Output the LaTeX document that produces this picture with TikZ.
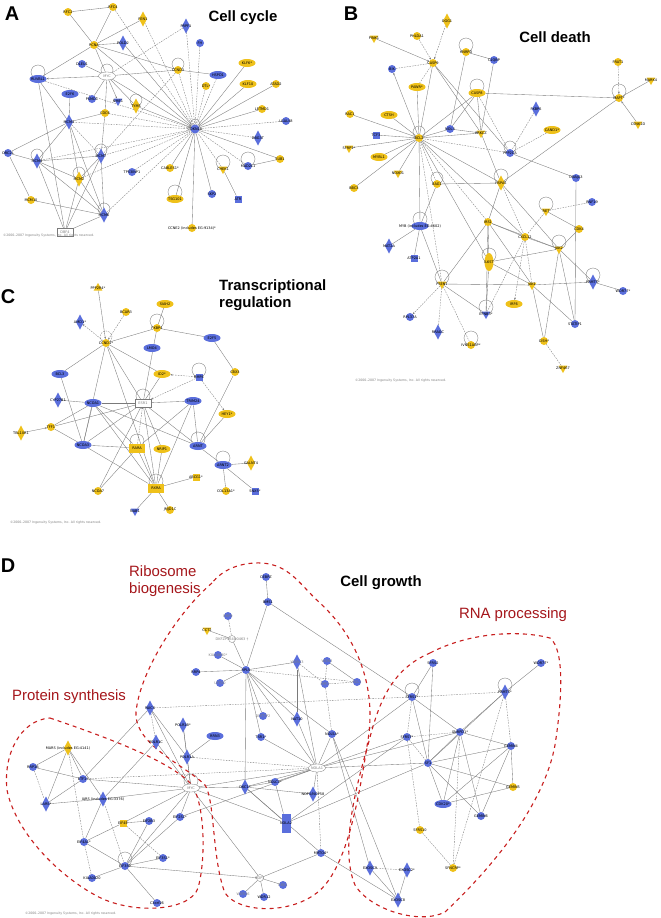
\documentclass[tikz,border=0pt]{standalone}
\usepackage{fontspec}
\setmainfont{Liberation Sans}
\newfontfamily\dv{DejaVu Sans}
\usetikzlibrary{shapes.geometric,arrows.meta}
\definecolor{gold}{HTML}{EFC11A}
\definecolor{blu}{HTML}{5A6EDC}
\definecolor{lgray}{HTML}{7A7A7A}
\definecolor{rdash}{HTML}{C81E1E}
\definecolor{rtext}{HTML}{A5161B}
\newcommand\lfnt{\dv\fontsize{3.5}{4}\selectfont}
\pgfdeclarelayer{bg}
\pgfsetlayers{bg,main}
\tikzset{
 base/.style={inner sep=0pt, outer sep=0pt, draw=none},
 gC/.style={base, circle, fill=gold, minimum size=8bp},
 bC/.style={base, circle, fill=blu, minimum size=8bp},
 gE/.style={base, ellipse, fill=gold, minimum width=17bp, minimum height=8bp},
 bE/.style={base, ellipse, fill=blu, minimum width=17bp, minimum height=8bp},
 gD/.style={base, diamond, fill=gold, minimum width=8bp, minimum height=15bp},
 bD/.style={base, diamond, fill=blu, minimum width=8bp, minimum height=15bp},
 gT/.style={base, regular polygon, regular polygon sides=3, shape border rotate=180, fill=gold, minimum size=10bp},
 gTu/.style={base, regular polygon, regular polygon sides=3, fill=gold, minimum size=10bp},
 bT/.style={base, regular polygon, regular polygon sides=3, shape border rotate=180, fill=blu, minimum size=10bp},
 bS/.style={base, rectangle, fill=blu, minimum size=7bp},
 gS/.style={base, rectangle, fill=gold, minimum size=7bp},
 gR/.style={base, rectangle, fill=gold, minimum width=16bp, minimum height=9bp},
 bR/.style={base, rectangle, fill=blu, minimum width=9bp, minimum height=19bp},
 wE/.style={base, ellipse, draw=lgray, line width=0.3bp, fill=white, minimum width=17bp, minimum height=8bp},
 wC/.style={base, circle, draw=lgray, line width=0.3bp, fill=white, minimum size=7bp},
 wR/.style={base, rectangle, draw=lgray, line width=0.3bp, fill=white, minimum width=16bp, minimum height=8bp},
 lbl/.style={font=\lfnt, inner sep=0pt, text=black},
 lblg/.style={font=\lfnt, inner sep=0pt, text=gray},
 e/.style={draw=lgray, line width=0.35bp},
 ed/.style={e, dash pattern=on 1.6bp off 1.1bp},
 >={Stealth[length=2.2bp,width=1.8bp]},
 reg/.style={draw=rdash, line width=1.1bp, dash pattern=on 4bp off 4bp},
 ttl/.style={font=\bfseries\fontsize{15}{17}\selectfont, inner sep=0pt},
 plet/.style={font=\bfseries\fontsize{20}{22}\selectfont, inner sep=0pt},
 rtx/.style={font=\fontsize{15}{18}\selectfont, text=rtext, inner sep=0pt, align=left},
 cpy/.style={font=\dv\fontsize{3.2}{4}\selectfont, text=gray, inner sep=0pt, anchor=west},
}
\newcommand\ND[4]{\node[#1, label={[lbl]center:{#4}}] (#2) at (#3) {};}
\newcommand\NDG[4]{\node[#1, label={[lblg]center:{#4}}] (#2) at (#3) {};}
\newcommand\LPP[2]{\draw[e] ([yshift=#2bp]#1.center) circle[radius=#2bp];}
\begin{document}
\begin{tikzpicture}[x=1bp,y=-1bp]
\begin{pgfonlayer}{bg}
\fill[white] (0,0) rectangle (661,918);
\end{pgfonlayer}
\useasboundingbox (0,0) rectangle (661,918);
% ================= Panel A =================
\node[plet] at (12,14) {A};
\node[ttl] at (243,18) {Cell cycle};
\ND{gC}{aRFC2}{68,12}{RFC2}
\ND{gC}{aRFC4}{113,7}{RFC4}
\ND{gD}{aFEN1}{143,19}{FEN1}
\ND{bD}{aPRPF1}{186,26}{PRPF1}
\ND{gC}{aPCNA}{94,45}{PCNA}
\ND{bD}{aPOLD2}{123,43}{POLD2}
\ND{bC}{aFH}{200,43}{FH}
\ND{bC}{aDLEU1}{82,64}{DLEU1}
\NDG{wE}{aMYC}{107,76}{MYC}
\ND{gC}{aCCND3}{178,70}{CCND3}
\ND{bE}{aHSPD1}{218,75}{HSPD1}
\ND{gC}{aDTL}{206,86}{DTL*}
\ND{gE}{aKLF6}{247,63}{KLF6*}
\ND{gE}{aKLF10}{248,84}{KLF10}
\ND{gC}{aATAD2}{276,84}{ATAD2}
\ND{gC}{aLETMD1}{262,109}{LETMD1}
\ND{bC}{aLGALS8}{286,121}{LGALS8}
\ND{bD}{aDBG}{258,138}{DBG3T}
\ND{gC}{aSUB1}{280,159}{SUB1}
\ND{bC}{aMAD2L1}{248,166}{MAD2L1}
\ND{gT}{aCHEK1}{223,169}{CHEK1}
\ND{bS}{aATR}{238,199}{ATR}
\node[base, circle, fill=blu, minimum size=9bp, label={[lbl]center:CDKN1A}] (aCDKN1A) at (195,129) {};
\ND{bE}{aRUVBL1}{38,79}{RUVBL1}
\ND{bE}{aE2F6}{70,94}{E2F6}
\ND{bC}{aPSMD1}{92,99}{PSMD1}
\ND{bT}{aNME1}{118,101}{NME1}
\ND{gD}{aTYMS}{136,106}{TYMS}
\ND{gC}{aCDC6}{105,113}{CDC6}
\ND{bD}{aMCM3}{69,122}{MCM3}
\ND{bC}{aORC2L}{8,153}{ORC2L}
\ND{bD}{aMCM4}{37,161}{MCM4}
\ND{bD}{aMCM7}{101,156}{MCM7}
\ND{gD}{aMCM2}{79,179}{MCM2}
\ND{gC}{aMCM10}{31,200}{MCM10}
\ND{bD}{aMCM6}{104,215}{MCM6}
\NDG{wR}{aDBF4}{65,232}{DBF4}
\ND{bC}{aTP53}{132,172}{TP53INP1}
\ND{gC}{aCABLES}{170,168}{CABLES1*}
\ND{gE}{aTSG}{175,199}{TSG101}
\ND{bC}{aSKP2}{212,194}{SKP2}
\ND{gC}{aCCNE2}{192,228}{CCNE2 (includes EG:9134)*}
\node[cpy] at (3,236) {©2000–2007 Ingenuity Systems, Inc. All rights reserved.};
% ================= Panel B =================
\node[plet] at (351,14) {B};
\node[ttl] at (555,37) {Cell death};
\ND{gD}{bOGG1}{447,21}{OGG1}
\ND{gT}{bPINK1}{374,38}{PINK1}
\ND{gC}{bPHLDA1}{417,36}{PHLDA1}
\ND{gC}{bCASP9}{433,63}{CASP9}
\ND{gC}{bHNRPD}{466,52}{HNRPD}
\ND{bC}{bC1QBP}{494,60}{C1QBP}
\ND{bC}{bBIK}{392,69}{BIK}
\ND{gE}{bPAWR}{417,87}{PAWR*}
\ND{gE}{bCASP8}{477,93}{CASP8}
\ND{gC}{bFRAT1}{618,62}{FRAT1}
\ND{gT}{bMARK4}{651,80}{MARK4}
\ND{gC}{bMAPT}{619,98}{MAPT*}
\ND{gT}{bCSNK1D}{638,124}{CSNK1D}
\ND{bD}{bFKBP5}{536,109}{FKBP5}
\ND{gE}{bCAND1}{552,130}{CAND1*}
\ND{bC}{bNOL3}{450,129}{NOL3}
\ND{gT}{bPRKCZ}{481,133}{PRKCZ}
\ND{bC}{bPPP}{510,153}{PPP2CA}
\ND{bC}{bDNAJA3}{576,178}{DNAJA3}
\ND{gD}{bHSPA5}{501,183}{HSPA5}
\ND{gC}{bRAC1}{350,114}{RAC1}
\ND{gE}{bCTSH}{389,115}{CTSH}
\ND{bS}{bTCF3}{376,135}{TCF3}
\ND{gC}{bBCL2}{419,138}{BCL2}
\ND{gT}{bSFRP}{349,148}{SFRP1*}
\ND{gE}{bMYBL}{379,157}{MYBL1}
\ND{gT}{bNOXO}{398,173}{NOXO1}
\ND{gC}{bBBC3}{354,188}{BBC3}
\ND{gC}{bBAG1}{437,184}{BAG1}
\ND{bE}{bMYB}{420,226}{MYB (includes EG:4602)}
\ND{bD}{bMAT2A}{389,246}{MAT2A}
\ND{bS}{bATP}{414,258}{ATP2A1}
\ND{gT}{bPSEN}{442,284}{PSEN1}
\ND{bC}{bRPL}{410,317}{RPL37A}
\ND{bD}{bRRAGC}{438,332}{RRAGC}
\ND{gC}{bIRS1}{488,222}{IRS1}
\ND{gT}{bRET}{546,211}{RET}
\ND{bC}{bRNF19}{592,202}{RNF19}
\ND{gC}{bCDK4}{579,229}{CDK4}
\ND{gC}{bCXCL12}{525,237}{CXCL12}
\ND{gT}{bJAK2}{559,249}{JAK2}
\node[base, ellipse, fill=gold, minimum width=9bp, minimum height=18bp, label={[lbl]center:IL6ST}] (bIL6ST) at (489,262) {};
\ND{bD}{bPRMT5}{593,282}{PRMT5*}
\ND{bC}{bWDR77}{623,291}{WDR77*}
\ND{gT}{bJAK1}{532,285}{JAK1}
\ND{gE}{bIRF6}{514,304}{IRF6}
\ND{bT}{bEFNB3}{486,314}{EFNB3*}
\ND{bC}{bSTAT}{575,324}{STATIP1}
\ND{gC}{bCISH}{544,341}{CISH*}
\ND{gC}{bIVNS}{471,345}{IVNS1ABP*}
\ND{gT}{bZNF}{563,368}{ZNF467}
\node[cpy] at (355,381) {©2000–2007 Ingenuity Systems, Inc. All rights reserved.};
% ================= Panel C =================
\node[plet] at (8,297) {C};
\node[ttl, anchor=west] at (219,287) {Transcriptional};
\node[ttl, anchor=west] at (219,304) {regulation};
\ND{gTu}{cPPP}{98,288}{PPP2R4*}
\ND{gC}{cBCAR3}{126,312}{BCAR3}
\ND{gE}{cSIAH2}{165,304}{SIAH2}
\ND{bD}{cAMD1}{80,322}{AMD1*}
\ND{gC}{cFKBP4}{157,328}{FKBP4}
\ND{bE}{cE2F5}{212,338}{E2F5}
\ND{gC}{cCCND1}{106,343}{CCND1*}
\ND{bE}{cLMO4}{152,348}{LMO4}
\ND{bE}{cBCL3}{60,374}{BCL3}
\ND{gE}{cID2}{162,374}{ID2*}
\ND{bS}{cBMP4}{199,377}{BMP4}
\ND{gC}{cCBX3}{235,372}{CBX3}
\ND{bD}{cCYP}{58,400}{CYP27B1}
\ND{bE}{cNCOA1}{93,403}{NCOA1}
\NDG{wR}{cESR1}{143,403}{ESR1}
\ND{bE}{cTRIM24}{193,401}{TRIM24}
\ND{gE}{cHEY1}{227,414}{HEY1*}
\ND{gD}{cTBL}{21,433}{TBL1XR1}
\ND{gC}{cTFF1}{51,427}{TFF1}
\ND{bE}{cNCOA3}{83,445}{NCOA3}
\ND{gR}{cRARA}{137,448}{RARA}
\ND{gE}{cNRIP1}{162,449}{NRIP1}
\ND{bE}{cARNT}{198,446}{ARNT}
\ND{bE}{cARNT2}{223,465}{ARNT2}
\ND{gD}{cGALNT4}{251,463}{GALNT4}
\ND{gS}{cABCG1}{196,477}{ABCG1*}
\ND{gR}{cRXRA}{156,488}{RXRA}
\ND{gC}{cNCOA7}{98,491}{NCOA7}
\ND{gC}{cCOL}{226,491}{COL13A1*}
\ND{bS}{cSNX5}{255,491}{SNX5*}
\ND{bT}{cNAB1}{135,511}{NAB1}
\ND{gC}{cJMJD}{170,510}{JMJD1C}
\node[cpy] at (10,523) {©2000–2007 Ingenuity Systems, Inc. All rights reserved.};
% ================= Panel D =================
\node[plet] at (8,566) {D};
\node[ttl] at (381,583) {Cell growth};
\node[rtx, anchor=north west] at (129,565) {Ribosome\\biogenesis};
\node[rtx, anchor=west] at (12,697) {Protein synthesis};
\node[rtx] at (513,615) {RNA processing};
\draw[reg] (50,718) .. controls (100,735) and (170,760) .. (192,785)
  .. controls (205,805) and (206,860) .. (198,888)
  .. controls (190,912) and (130,915) .. (95,895)
  .. controls (55,873) and (15,830) .. (7,790)
  .. controls (3,755) and (20,720) .. (50,718);
\draw[reg] (212,583) .. controls (180,610) and (140,670) .. (136,712)
  .. controls (134,745) and (185,765) .. (205,785)
  .. controls (215,800) and (212,860) .. (225,893)
  .. controls (240,915) and (300,915) .. (325,885)
  .. controls (350,855) and (360,790) .. (368,740)
  .. controls (376,690) and (360,640) .. (320,603)
  .. controls (300,585) and (290,565) .. (262,563)
  .. controls (240,562) and (222,570) .. (212,583);
\draw[reg] (430,653) .. controls (470,632) and (520,630) .. (550,638)
  .. controls (565,650) and (562,700) .. (555,745)
  .. controls (545,800) and (500,860) .. (445,912)
  .. controls (420,925) and (370,910) .. (355,885)
  .. controls (340,850) and (355,790) .. (368,745)
  .. controls (378,705) and (390,670) .. (430,653);
\ND{gT}{dCCT2}{207,630}{CCT2}
\NDG{wC}{dDKFZ}{232,639}{DKFZP564O0463 †}
\NDG{bC}{dRRP9}{228,616}{RRP9}
\ND{bC}{dCEBPZ}{266,577}{CEBPZ}
\ND{bC}{dBMS1}{268,602}{BMS1}
\NDG{bC}{dKIAA}{218,655}{KIAA0690*}
\ND{bC}{dRRP4}{196,672}{RRP4}
\NDG{bC}{dUTP20}{220,683}{UTP20}
\ND{bC}{dRPL5}{246,670}{RPL5}
\NDG{bD}{dWDR43}{297,662}{WDR43}
\NDG{bC}{dWDR3}{327,661}{WDR3}
\NDG{bC}{dRCL1}{357,682}{RCL1}
\NDG{bC}{dRPF2}{325,684}{RPF2}
\NDG{bC}{dDNT}{263,716}{DNTTIP2}
\ND{bD}{dNAT10}{297,719}{NAT10}
\ND{bE}{dRRN3}{215,736}{RRN3}
\ND{bC}{dTSR1}{261,737}{TSR1*}
\ND{bC}{dNOL5A}{332,734}{NOL5A*}
\ND{bC}{dSFRS1}{412,697}{SFRS1*}
\ND{bC}{dSFRS2}{433,663}{SFRS2}
\ND{bD}{dPRMT5}{505,692}{PRMT5*}
\ND{bC}{dWDR77}{541,663}{WDR77*}
\ND{bC}{dSFRS7}{407,737}{SFRS7*}
\ND{bC}{dSNRPD1}{460,732}{SNRPD1*}
\ND{bC}{dGEMIN4}{511,746}{GEMIN4}
\ND{bC}{dSF1}{428,763}{SF1}
\ND{gC}{dGEMIN5}{513,787}{GEMIN5}
\ND{bE}{dCDK}{443,804}{CDK20*}
\ND{bC}{dGEMIN6}{481,816}{GEMIN6}
\ND{gC}{dSFRS10}{420,830}{SFRS10}
\ND{gC}{dSFN}{453,868}{SFNCRP*}
\NDG{wE}{dMYC}{191,788}{MYC}
\NDG{wE}{dHUB}{317,768}{NOLA1}
\ND{bC}{dNOLC1}{275,782}{NOLC1*}
\ND{bD}{dNOP}{313,794}{NOP5/NOP58}
\ND{bD}{dDKC1}{245,787}{DKC1*}
\ND{bR}{dNOLA2}{286,823}{NOLA2}
\ND{bC}{dMRTO4}{321,853}{MRTO4*}
\ND{bD}{dEXOSC9}{370,868}{EXOSC9}
\ND{bD}{dEXOSC2}{407,870}{EXOSC2*}
\ND{bD}{dEXOSC8}{398,900}{EXOSC8}
\NDG{wC}{dBOP1}{260,878}{BOP1}
\NDG{bC}{dRRS1}{283,885}{RRS1}
\NDG{bC}{dWDR36}{243,894}{WDR36}
\ND{bC}{dWDR12}{264,897}{WDR12}
\ND{bD}{dPAICS}{150,708}{PAICS}
\ND{bD}{dPOLR1B}{183,725}{POLR1B*}
\ND{bD}{dPOLR1C}{156,742}{POLR1C}
\ND{bD}{dPOLR1A}{187,757}{POLR1A}
\ND{gD}{dMARS}{68,748}{MARS (includes EG:4141)}
\ND{bC}{dRRP1B}{33,767}{RRP1B}
\ND{bC}{dETF1}{83,779}{ETF1*}
\ND{bD}{dLARS}{46,804}{LARS*}
\ND{bD}{dIARS}{103,799}{IARS (includes EG:3376)}
\ND{gS}{dEIF4E}{123,823}{EIF4E}
\ND{bC}{dEIF2B3}{149,821}{EIF2B3}
\ND{bC}{dEIF2S1}{180,817}{EIF2S1*}
\ND{bC}{dEIF4A1}{84,842}{EIF4A1*}
\ND{bC}{dEIF3S1}{163,858}{EIF3S1*}
\ND{bC}{dEIF3S9}{125,866}{EIF3S9}
\ND{bC}{dKIAA0020}{92,878}{KIAA0020}
\ND{bC}{dC3orf}{157,903}{C3orf26}
\node[cpy] at (25,914) {©2000–2007 Ingenuity Systems, Inc. All rights reserved.};
% ================= Edges =================
\begin{pgfonlayer}{bg}
\foreach \n/\r in {aMYC/6,aCCND3/6,aRUVBL1/7,aTYMS/6,aMCM4/6,aMCM7/6,aMCM2/6,aMCM6/6,aTSG/7,aMAD2L1/7,aCHEK1/7,aCDKN1A/5,
 bHNRPD/7,bCASP8/7,bMAPT/7,bPPP/6,bHSPA5/7,bBCL2/6,bBAG1/6,bMYB/7,bPSEN/7,bRET/7,bJAK2/7,bIL6ST/7,bPRMT5/7,bEFNB3/7,bIVNS/7,
 cFKBP4/7,cBMP4/7,cESR1/7,cRARA/7,cARNT/7,cARNT2/7,cRXRA/7,
 dSFRS1/7,dPRMT5/7,dMYC/7,dEIF3S9/7}
 {\LPP{\n}{\r}}
\draw[ed] ([yshift=6bp]cCCND1.center) circle[radius=6bp];
% Panel A
\foreach \a/\b in {aRFC2/aRFC4,aRFC2/aPCNA,aRFC4/aPCNA,aFEN1/aPCNA,aPOLD2/aPCNA,aPCNA/aRUVBL1,aPCNA/aCCND3,aPCNA/aMYC,aPCNA/aCDKN1A,
 aMYC/aDLEU1,aMYC/aPSMD1,aMYC/aCDC6,aMYC/aTYMS,aMYC/aCCND3,aCCND3/aHSPD1,aPOLD2/aCDKN1A,
 aKLF6/aCDKN1A,aKLF10/aCDKN1A,aATAD2/aCDKN1A,aLETMD1/aCDKN1A,aSUB1/aMAD2L1,aSUB1/aCDKN1A,aCHEK1/aATR,aSKP2/aCDKN1A,aCCNE2/aCDKN1A,
 aTSG/aCDKN1A,aCABLES/aCDKN1A,aTYMS/aCDKN1A,
 aE2F6/aMCM3,aRUVBL1/aMCM3,aRUVBL1/aDBF4,aCDC6/aMCM3,aCDC6/aMCM7,aORC2L/aMCM4,aORC2L/aMCM3,aORC2L/aMCM10,aMCM3/aMCM2,aMCM3/aMCM6,
 aMCM4/aMCM7,aMCM4/aMCM2,aMCM4/aMCM6,aMCM4/aDBF4,aMCM7/aMCM2,aMCM7/aMCM6,aMCM7/aDBF4,aMCM2/aMCM6,aMCM10/aMCM6,aMCM2/aDBF4,aMCM6/aDBF4,aMCM3/aMCM4}
 {\draw[e] (\a) -- (\b);}
\foreach \a/\b in {aMYC/aRUVBL1,aMYC/aNME1,aMYC/aCDKN1A}
 {\draw[e,->] (\a) -- (\b);}
\foreach \a/\b in {aFEN1/aCDKN1A,aRFC4/aCDKN1A,aPRPF1/aCDKN1A,aPRPF1/aMYC,aFH/aCDKN1A,aCCND3/aCDKN1A,aHSPD1/aCDKN1A,aDTL/aCDKN1A,
 aLGALS8/aCDKN1A,aDBG/aCDKN1A,aCHEK1/aCDKN1A,aMAD2L1/aCDKN1A,aCDC6/aCDKN1A,aMCM3/aCDKN1A,aMCM4/aCDKN1A,aMCM7/aCDKN1A,aMCM2/aCDKN1A,
 aMCM6/aCDKN1A,aMCM3/aMCM7,aCCND3/aMCM7,aTP53/aCDKN1A,aRUVBL1/aCDKN1A}
 {\draw[ed] (\a) -- (\b);}
% Panel B
\foreach \a/\b in {bCASP9/bBCL2,bCASP9/bPRKCZ,bCASP9/bPPP,bHNRPD/bC1QBP,bHNRPD/bNOL3,bC1QBP/bPRKCZ,bCASP8/bMAPT,bCASP8/bBCL2,bCASP8/bPRKCZ,
 bCASP8/bNOL3,bMARK4/bMAPT,bMAPT/bHSPA5,bNOL3/bPRKCZ,bNOL3/bBCL2,bPPP/bDNAJA3,bPRKCZ/bBCL2,
 bBCL2/bRAC1,bBCL2/bCTSH,bBCL2/bTCF3,bBCL2/bSFRP,bBCL2/bMYBL,bBCL2/bNOXO,bBCL2/bBBC3,bBCL2/bPAWR,bBCL2/bMYB,bBCL2/bHSPA5,bBCL2/bIL6ST,bBCL2/bCXCL12,
 bBAG1/bHSPA5,bHSPA5/bIRS1,bHSPA5/bJAK2,bDNAJA3/bSTAT,bMYB/bMAT2A,bMYB/bATP,bMYB/bPSEN,bMYB/bBAG1,
 bPSEN/bIRS1,bPSEN/bJAK1,bPSEN/bEFNB3,bIRS1/bCXCL12,bIRS1/bJAK2,bIRS1/bIL6ST,bIRS1/bJAK1,bIRS1/bEFNB3,bRET/bCDK4,
 bJAK2/bCXCL12,bJAK2/bCDK4,bJAK2/bPRMT5,bJAK2/bSTAT,bJAK2/bCISH,bJAK2/bIL6ST,bJAK1/bIL6ST,bJAK1/bCISH,bJAK1/bSTAT,bJAK1/bPRMT5,
 bIL6ST/bEFNB3,bPRMT5/bWDR77,bPRKCZ/bHSPA5}
 {\draw[e] (\a) -- (\b);}
\foreach \a/\b in {bPINK1/bCASP9,bCSNK1D/bMAPT,bBCL2/bBIK}
 {\draw[e,->] (\a) -- (\b);}
\foreach \a/\b in {bOGG1/bCASP9,bPHLDA1/bCASP9,bFRAT1/bMAPT,bPSEN/bRPL,bCXCL12/bIRF6}
 {\draw[ed,->] (\a) -- (\b);}
\foreach \a/\b in {bBIK/bCASP9,bCASP8/bPPP,bFKBP5/bPPP,bCAND1/bPPP,bPPP/bBCL2,bBCL2/bBAG1,bBCL2/bIRS1,bBCL2/bPSEN,bHSPA5/bCXCL12,
 bPSEN/bRRAGC,bPSEN/bIVNS,bRET/bCXCL12,bRET/bRNF19,bCXCL12/bJAK1,bCXCL12/bEFNB3,bCISH/bZNF,bCASP9/bPAWR}
 {\draw[ed] (\a) -- (\b);}
% Panel C
\foreach \a/\b in {cCCND1/cFKBP4,cFKBP4/cSIAH2,cFKBP4/cE2F5,cFKBP4/cESR1,cE2F5/cCBX3,cCBX3/cARNT,cCCND1/cBCL3,cCCND1/cESR1,cCCND1/cRXRA,
 cCCND1/cNCOA3,cCCND1/cID2,cNCOA1/cESR1,cTFF1/cESR1,cNCOA3/cESR1,cNRIP1/cESR1,cRXRA/cESR1,cNCOA7/cESR1,cTRIM24/cESR1,cARNT/cESR1,
 cBCL3/cNCOA3,cNCOA1/cCYP,cNCOA1/cTFF1,cNCOA1/cNCOA3,cNCOA1/cRARA,cNCOA1/cRXRA,cNCOA1/cARNT,cTFF1/cNCOA3,cNCOA3/cRARA,cNCOA3/cRXRA,
 cTRIM24/cRARA,cTRIM24/cARNT,cTRIM24/cRXRA,cHEY1/cARNT,cARNT/cARNT2,cARNT2/cGALNT4,cARNT2/cCOL,cARNT2/cSNX5,cRARA/cRXRA,cNRIP1/cRXRA,
 cRXRA/cABCG1,cRXRA/cNAB1,cRXRA/cJMJD,cNCOA7/cRARA,cID2/cESR1}
 {\draw[e] (\a) -- (\b);}
\foreach \a/\b in {cPPP/cCCND1,cTBL/cTFF1}
 {\draw[e,->] (\a) -- (\b);}
\foreach \a/\b in {cBCAR3/cCCND1,cCCND1/cAMD1,cBMP4/cID2,cBMP4/cHEY1,cBMP4/cESR1,cRARA/cESR1}
 {\draw[ed,->] (\a) -- (\b);}
% Panel D
\foreach \a/\b in {dCEBPZ/dBMS1,dBMS1/dRPL5,dBMS1/dSFRS1,dCCT2/dDKFZ,dDKFZ/dRPL5,dKIAA/dRPL5,dRRP4/dRPL5,dUTP20/dRPL5,dRPL5/dWDR43,
 dRPL5/dNAT10,dRPL5/dDNT,dRPL5/dTSR1,dRPL5/dHUB,dRPL5/dDKC1,dRPL5/dNOL5A,dWDR43/dNAT10,dWDR43/dHUB,dWDR3/dRCL1,
 dHUB/dNOL5A,dHUB/dTSR1,dHUB/dNOLC1,dHUB/dNOP,dHUB/dSFRS1,dHUB/dSF1,dHUB/dSFRS7,dHUB/dSNRPD1,dHUB/dMYC,dHUB/dNAT10,dHUB/dDKC1,dHUB/dEIF2S1,
 dMYC/dPAICS,dMYC/dPOLR1B,dMYC/dPOLR1C,dMYC/dPOLR1A,dMYC/dETF1,dMYC/dEIF2S1,dMYC/dEIF4E,dMYC/dEIF3S9,dMYC/dDKC1,dMYC/dNOLA2,dMYC/dBOP1,dMYC/dIARS,
 dDKC1/dNOLC1,dDKC1/dNOLA2,dDKC1/dNOP,dDKC1/dMRTO4,dNOLC1/dNOLA2,dNOLA2/dSF1,dNOLA2/dSFRS7,dMRTO4/dBOP1,dBOP1/dWDR36,dBOP1/dWDR12,dBOP1/dRRS1,
 dMRTO4/dEXOSC8,dNOL5A/dEXOSC9,dNOL5A/dEXOSC8,dEXOSC9/dEXOSC8,dEXOSC2/dEXOSC8,
 dSFRS2/dSFRS1,dSFRS2/dSF1,dPRMT5/dWDR77,dPRMT5/dSNRPD1,dPRMT5/dSF1,dSNRPD1/dGEMIN4,dSNRPD1/dSF1,dSNRPD1/dCDK,dSNRPD1/dGEMIN6,
 dGEMIN4/dSF1,dGEMIN4/dGEMIN5,dGEMIN4/dCDK,dGEMIN4/dGEMIN6,dSF1/dGEMIN5,dSF1/dCDK,dSF1/dGEMIN6,dCDK/dGEMIN5,dSFRS1/dSNRPD1,dSFRS1/dSF1,
 dMARS/dRRP1B,dMARS/dLARS,dMARS/dETF1,dMARS/dIARS,dRRP1B/dETF1,dLARS/dETF1,dLARS/dIARS,dETF1/dPAICS,dIARS/dPOLR1C,dIARS/dEIF4A1,
 dEIF4A1/dEIF3S9,dEIF4E/dEIF2B3,dEIF4E/dEIF4A1,dEIF2B3/dEIF3S9,dEIF2S1/dEIF3S9,dEIF3S9/dKIAA0020,dEIF3S9/dC3orf,dEIF3S9/dEIF3S1,
 dEIF3S9/dBOP1,dPAICS/dPOLR1A,dPOLR1B/dPOLR1A,dPOLR1A/dRRN3}
 {\draw[e] (\a) -- (\b);}
\foreach \a/\b in {dRRP9/dDKFZ,dRPL5/dRCL1,dWDR3/dRPF2,dRPF2/dRCL1,dRPF2/dNOL5A,dHUB/dMRTO4,dEXOSC9/dEXOSC2,dPRMT5/dGEMIN4,dPRMT5/dSFRS1,
 dPRMT5/dSFN,dSNRPD1/dSFN,dSNRPD1/dSFRS7,dSFRS7/dSFRS10,dSFRS10/dSFN,dSFRS1/dSFRS7,dSFRS7/dSF1,dMARS/dEIF4A1,dRRP1B/dLARS,dETF1/dHUB,
 dIARS/dEIF3S9,dEIF4A1/dKIAA0020,dEIF4E/dEIF3S1,dPAICS/dPOLR1C,dPAICS/dSFRS1,dPOLR1A/dHUB,dWDR43/dRPF2}
 {\draw[ed] (\a) -- (\b);}
\end{pgfonlayer}
\end{tikzpicture}
\end{document}
